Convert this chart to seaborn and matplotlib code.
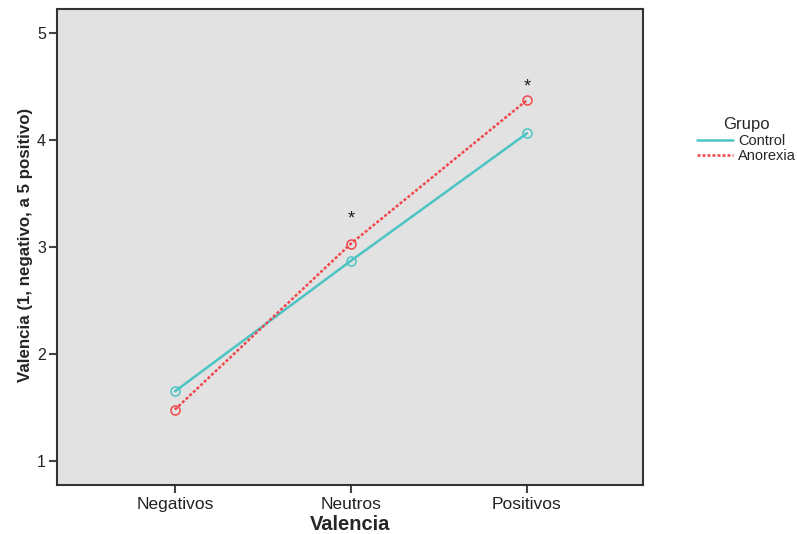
import matplotlib
matplotlib.use("Agg")
import matplotlib.pyplot as plt
import seaborn as sns
import pandas as pd
from matplotlib.lines import Line2D

categories = ["Negativos", "Neutros", "Positivos"]
control = [1.65, 2.87, 4.06]
anorexia = [1.48, 3.03, 4.37]
groups = ["Control", "Anorexia"]
colors = {"Control": "#4DC4C4", "Anorexia": "#F0474B"}
sig_cats = ["Neutros", "Positivos"]
sig_y = [3.26, 4.49]

df = pd.DataFrame({
    "Valencia": categories * 2,
    "Valor": control + anorexia,
    "Grupo": ["Control"] * 3 + ["Anorexia"] * 3,
})
df["x"] = df["Valencia"].map({c: i for i, c in enumerate(categories)})

sns.set_style("white")
plt.rcParams["font.family"] = ["Liberation Sans", "DejaVu Sans"]

fig = plt.figure(figsize=(7.97, 5.34), dpi=100)
ax = fig.add_axes([0.0715, 0.0918, 0.7355, 0.8912])
ax.set_facecolor("#E2E2E2")

dashes = {"Control": "", "Anorexia": (1.2, 0.8)}
for g in groups:
    sub = df[df["Grupo"] == g]
    sns.lineplot(data=sub, x="x", y="Valor", ax=ax, color=colors[g],
                 linewidth=1.8, marker="o", markersize=6.5,
                 markerfacecolor="none", markeredgecolor=colors[g],
                 markeredgewidth=1.1, legend=False)
    ln = ax.lines[-1]
    if dashes[g]:
        ln.set_dashes(dashes[g])

for c, y in zip(sig_cats, sig_y):
    ax.text(categories.index(c), y, "*", ha="center", va="center",
            fontsize=13, color="#222222")

ax.set_xlim(-0.67, 2.66)
ax.set_ylim(0.776, 5.22)
ax.set_xticks(range(len(categories)))
ax.set_xticklabels(categories, fontsize=12.5, color="#222222")
ax.set_yticks([1, 2, 3, 4, 5])
ax.set_yticklabels(["1", "2", "3", "4", "5"], fontsize=11.5, color="#222222")
ax.tick_params(axis="both", direction="out", length=6, width=1.5, color="#444444",
               bottom=True, left=True)
ax.tick_params(axis="y", pad=2)
ax.tick_params(axis="x", pad=3)
ax.set_xlabel("Valencia", fontsize=14.5, fontweight="bold", labelpad=2)
ax.set_ylabel("Valencia (1, negativo, a 5 positivo)", fontsize=12.2,
              fontweight="bold")
ax.yaxis.set_label_coords(-0.041, 0.504)
for s in ax.spines.values():
    s.set_visible(True)
    s.set_color("#333333")
    s.set_linewidth(1.5)

handles = [Line2D([0], [0], color=colors["Control"], lw=1.8),
           Line2D([0], [0], color=colors["Anorexia"], lw=1.8, dashes=(1.2, 0.8))]
leg = fig.legend(handles, groups, title="Grupo", loc="upper left",
                 bbox_to_anchor=(0.858, 0.805), frameon=False, fontsize=10.5,
                 title_fontsize=12, handlelength=2.5, handletextpad=0.3,
                 labelspacing=0.1)

fig.savefig("out.png", dpi=100)
